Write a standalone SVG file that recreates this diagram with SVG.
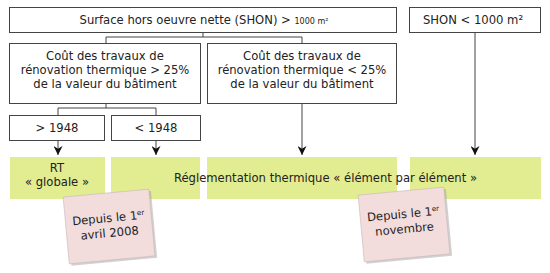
<svg xmlns="http://www.w3.org/2000/svg" width="550" height="273" viewBox="0 0 550 273">
<defs>
<style>
.box{fill:#fff;stroke:#444;stroke-width:1}
.green{fill:#e2ec90}
.note{fill:#f2dcdc;stroke:#c8b8b8;stroke-width:0.6}
.shadow{fill:#999;opacity:0.45}
.t{font-family:"DejaVu Sans",Verdana,sans-serif;font-size:11.6px;fill:#222;text-anchor:middle}
.sm{font-size:8px}
.sup{font-size:7px}
.ln{fill:none;stroke:#444;stroke-width:1}
</style>
<marker id="arr" viewBox="0 0 10 10" refX="10" refY="5" markerWidth="9" markerHeight="9" orient="auto" markerUnits="userSpaceOnUse">
<path d="M0,0 L10,5 L0,10 L3,5 Z" fill="#111"/>
</marker>
</defs>
<rect width="550" height="273" fill="#fff"/>
<g id="connectors">
<path class="ln" d="M203,32 V37 M106,37 H302 M106,37 V43 M302,37 V43"/>
<path class="ln" d="M106,103 V108 M58,108 H156 M58,108 V115 M156,108 V115"/>
<path class="ln" d="M58,140 V155" marker-end="url(#arr)"/>
<path class="ln" d="M156,140 V155" marker-end="url(#arr)"/>
<path class="ln" d="M302,103 V155" marker-end="url(#arr)"/>
<path class="ln" d="M475,32 V155" marker-end="url(#arr)"/>
</g>
<g id="n-shon-sup">
<rect class="box" x="9.5" y="7.5" width="387" height="25"/>
<text class="t" x="204" y="24">Surface hors oeuvre nette (SHON) &gt; <tspan class="sm">1000 m²</tspan></text>
</g>
<g id="n-shon-inf">
<rect class="box" x="409.5" y="7.5" width="131" height="25"/>
<text class="t" x="473" y="24">SHON &lt; 1000 m²</text>
</g>
<g id="n-cout-sup">
<rect class="box" x="9.5" y="43.5" width="191" height="60"/>
<text class="t" x="105" y="60">Coût des travaux de</text>
<text class="t" x="105" y="74">rénovation thermique &gt; 25%</text>
<text class="t" x="105" y="88">de la valeur du bâtiment</text>
</g>
<g id="n-cout-inf">
<rect class="box" x="207.5" y="43.5" width="189" height="60"/>
<text class="t" x="302" y="60">Coût des travaux de</text>
<text class="t" x="302" y="74">rénovation thermique &lt; 25%</text>
<text class="t" x="302" y="88">de la valeur du bâtiment</text>
</g>
<g id="n-post1948">
<rect class="box" x="9.5" y="115.5" width="95" height="25"/>
<text class="t" x="57" y="132">&gt; 1948</text>
</g>
<g id="n-pre1948">
<rect class="box" x="111.5" y="115.5" width="89" height="25"/>
<text class="t" x="156" y="132">&lt; 1948</text>
</g>
<g id="n-rt-globale">
<rect class="green" x="10" y="157" width="95" height="42"/>
<text class="t" x="57" y="172">RT</text>
<text class="t" x="57" y="186">« globale »</text>
</g>
<g id="n-rt-element">
<rect class="green" x="111" y="157" width="89" height="42"/>
<rect class="green" x="207" y="157" width="190" height="42"/>
<rect class="green" x="410" y="157" width="131" height="42"/>
<text class="t" x="325.5" y="182">Réglementation thermique « élément par élément »</text>
</g>
<g id="n-note-2008" transform="translate(109,226) rotate(-5.3)">
<rect class="shadow" x="-41" y="-31" width="86" height="67"/>
<rect class="note" x="-43" y="-33" width="86" height="67"/>
<text class="t" x="0" y="-4">Depuis le 1<tspan class="sup" dy="-4">er</tspan></text>
<text class="t" x="0" y="11">avril 2008</text>
</g>
<g id="n-note-nov" transform="translate(404,224) rotate(-5.3)">
<rect class="shadow" x="-41" y="-31" width="86" height="67"/>
<rect class="note" x="-43" y="-33" width="86" height="67"/>
<text class="t" x="0" y="-6">Depuis le 1<tspan class="sup" dy="-4">er</tspan></text>
<text class="t" x="0" y="9">novembre</text>
</g>
</svg>
